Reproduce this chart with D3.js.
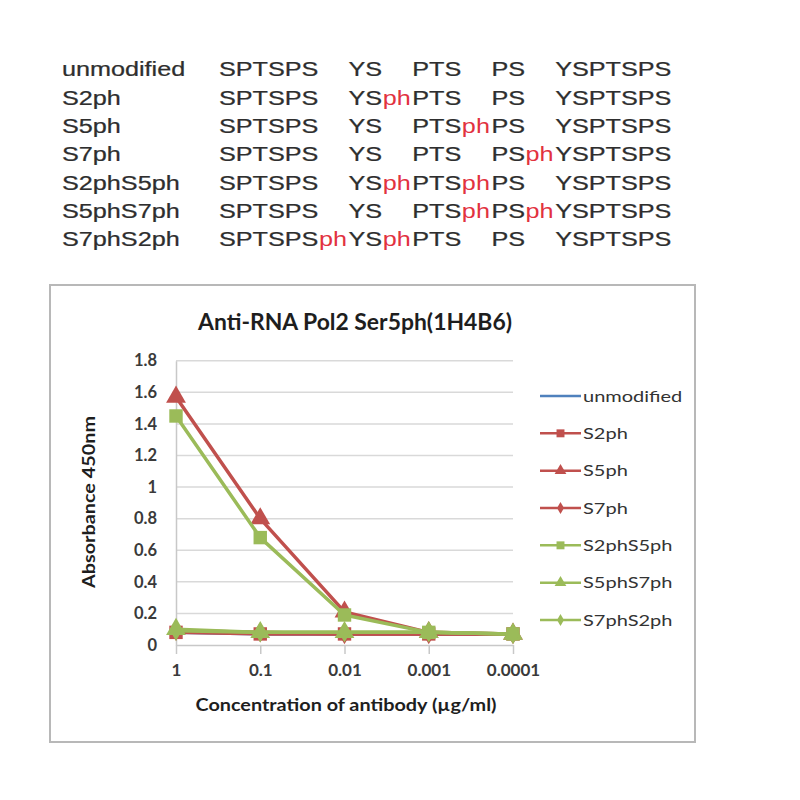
<!DOCTYPE html>
<html><head><meta charset="utf-8">
<script src="https://cdn.jsdelivr.net/npm/d3@7"></script>
<style>html,body{margin:0;padding:0;background:#fff;}</style>
</head><body>
<svg id="c" width="800" height="800"></svg>
<script>
// ---- data ----
const peptideNames = ["unmodified","S2ph","S5ph","S7ph","S2phS5ph","S5phS7ph","S7phS2ph"];
const motifSegments = ["SPTSPS","YS","PTS","PS","YSPTSPS"];
// which of the 4 junctions between segments carry "ph" (1 = phosphorylated)
const phMarks = [
  [0,0,0,0],
  [0,1,0,0],
  [0,0,1,0],
  [0,0,0,1],
  [0,1,1,0],
  [0,0,1,1],
  [1,1,0,0]
];
const concentrations = ["1","0.1","0.01","0.001","0.0001"];
const yTicks = [0,0.2,0.4,0.6,0.8,1,1.2,1.4,1.6,1.8];
const seriesNames = ["unmodified","S2ph","S5ph","S7ph","S2phS5ph","S5phS7ph","S7phS2ph"];
const unmodified = [0.08,0.07,0.07,0.07,0.07];
const s2ph       = [0.08,0.07,0.07,0.07,0.07];
const s5ph       = [1.57,0.80,0.21,0.08,0.07];
const s7ph       = [0.09,0.08,0.07,0.07,0.07];
const s2phS5ph   = [1.45,0.68,0.19,0.08,0.07];
const s5phS7ph   = [0.10,0.08,0.08,0.08,0.07];
const s7phS2ph   = [0.09,0.08,0.08,0.08,0.07];
const seriesValues = [unmodified,s2ph,s5ph,s7ph,s2phS5ph,s5phS7ph,s7phS2ph];
const seriesColors = ["#4F81BD","#C0504D","#C0504D","#C0504D","#9BBB59","#9BBB59","#9BBB59"];
const seriesMarkers = ["none","square","triangle","diamond","square","triangle","diamond"];

const svg = d3.select("#c");

// ---- sequence table ----
const sx = 1.2;
const tg = svg.append("g").attr("transform",`scale(${sx},1)`)
  .style("font-family","'Liberation Sans', Arial, sans-serif").style("font-size","21px");
const measure = (s)=>{const t=tg.append("text").text(s);const w=t.node().getComputedTextLength();t.remove();return w;};
const phW = measure("ph");
const rowY = d3.scaleLinear().domain([0,6]).range([76.5,246.5]);
peptideNames.forEach((name,i)=>{
  const y = rowY(i);
  tg.append("text").attr("x",62/sx).attr("y",y).attr("fill","#2e2e2e").attr("stroke","#2e2e2e").attr("stroke-width",0.25).text(name);
  let cur = 219/sx;
  motifSegments.forEach((seg,j)=>{
    tg.append("text").attr("x",cur).attr("y",y).attr("fill","#2e2e2e").attr("stroke","#2e2e2e").attr("stroke-width",0.25).text(seg);
    cur += measure(seg) + 0.5;
    if(j<4){
      if(phMarks[i][j]) tg.append("text").attr("x",cur).attr("y",y).attr("fill","#E2323F").text("ph");
      cur += phW + 1.5/sx;
    }
  });
});

// ---- chart frame ----
svg.append("rect").attr("x",50).attr("y",285).attr("width",645).attr("height",457)
  .attr("fill","#fff").attr("stroke","#b8b8b8").attr("stroke-width",2);

const x = d3.scalePoint().domain(concentrations).range([176,513]);
const y = d3.scaleLinear().domain([0,1.8]).range([645,360.7]);

const cfont = "Lato, 'Open Sans', sans-serif";
// gridlines
svg.append("g").selectAll("line").data(yTicks.slice(1)).join("line")
  .attr("x1",176).attr("x2",513).attr("y1",d=>y(d)).attr("y2",d=>y(d))
  .attr("stroke","#d9d9d9").attr("stroke-width",1.5);

// y axis
const ya = svg.append("g").attr("transform","translate(176,0)")
  .call(d3.axisLeft(y).tickValues(yTicks).tickSize(0).tickPadding(19).tickFormat(d3.format("")));
ya.select(".domain").attr("stroke","#c8c8c8").attr("stroke-width",1.5);
ya.selectAll("text").style("font-family",cfont).style("font-size","16.5px").style("font-weight","bold").attr("fill","#3a3a3a");

// x axis
const xa = svg.append("g").attr("transform","translate(0,645)")
  .call(d3.axisBottom(x).tickSize(9).tickPadding(10).tickSizeOuter(0));
xa.select(".domain").attr("stroke","#c8c8c8").attr("stroke-width",1.5);
xa.selectAll(".tick line").attr("stroke","#c8c8c8").attr("stroke-width",1.5);
xa.selectAll("text").style("font-family",cfont).style("font-size","17px").style("font-weight","bold").attr("fill","#3a3a3a");

// titles
svg.append("text").attr("x",355).attr("y",330).attr("text-anchor","middle")
  .attr("textLength",314).attr("lengthAdjust","spacingAndGlyphs")
  .style("font-family",cfont).style("font-size","22px").style("font-weight","bold").attr("fill","#1e1e1e")
  .text("Anti-RNA Pol2 Ser5ph(1H4B6)");
svg.append("text").attr("x",346).attr("y",711).attr("text-anchor","middle")
  .attr("textLength",301).attr("lengthAdjust","spacingAndGlyphs")
  .style("font-family",cfont).style("font-size","16.5px").style("font-weight","bold").attr("fill","#1e1e1e")
  .text("Concentration of antibody (µg/ml)");
svg.append("text").attr("transform","translate(95,502) rotate(-90)").attr("text-anchor","middle")
  .attr("textLength",172).attr("lengthAdjust","spacingAndGlyphs")
  .style("font-family",cfont).style("font-size","16.5px").style("font-weight","bold").attr("fill","#1e1e1e")
  .text("Absorbance 450nm");

// markers
const symType = {square:d3.symbolSquare, triangle:d3.symbolTriangle, diamond:d3.symbolDiamond};
const symSize = {square:180, triangle:170, diamond:120};
const line = d3.line().x((d,i)=>x(concentrations[i])).y(d=>y(d));
const plot = svg.append("g");
seriesValues.forEach((vals,si)=>{
  const g = plot.append("g");
  g.append("path").attr("d",line(vals)).attr("fill","none")
    .attr("stroke",seriesColors[si]).attr("stroke-width",3.5).attr("stroke-linejoin","round");
  if(seriesMarkers[si]!=="none"){
    const s = d3.symbol().type(symType[seriesMarkers[si]]).size(symSize[seriesMarkers[si]]);
    g.selectAll("path.m").data(vals).join("path").attr("class","m")
      .attr("transform",(d,i)=>`translate(${x(concentrations[i])},${y(d)})`)
      .attr("d",s).attr("fill",seriesColors[si]);
  }
});

// legend
const ly = d3.scaleLinear().domain([0,6]).range([396,620]);
const lg = svg.append("g");
seriesNames.forEach((n,si)=>{
  const yy = ly(si);
  lg.append("line").attr("x1",540).attr("x2",581).attr("y1",yy).attr("y2",yy)
    .attr("stroke",seriesColors[si]).attr("stroke-width",2.5);
  if(seriesMarkers[si]!=="none"){
    lg.append("path").attr("transform",`translate(560.5,${yy})`)
      .attr("d",d3.symbol().type(symType[seriesMarkers[si]]).size(symSize[seriesMarkers[si]]*0.35))
      .attr("fill",seriesColors[si]);
  }
  lg.append("text").attr("transform",`translate(583,${yy+5.5}) scale(1.25,1)`)
    .style("font-family",cfont).style("font-size","16px")
    .attr("fill","#333").text(n);
});
</script>
</body></html>
